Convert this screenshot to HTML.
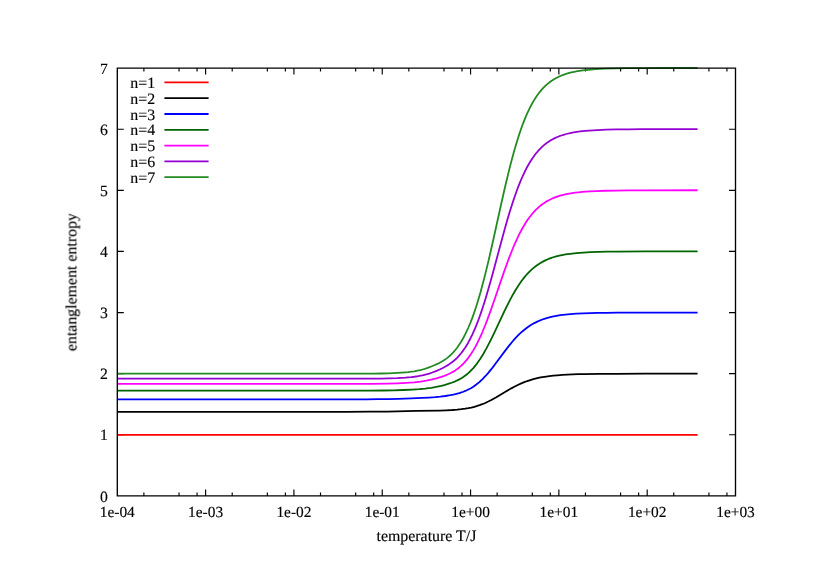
<!DOCTYPE html>
<html><head><meta charset="utf-8"><style>html,body{margin:0;padding:0;background:#fff}svg{display:block}text{font-family:"Liberation Serif",serif;font-size:15.9px;fill:#000;stroke:#000;stroke-width:0.15px;text-rendering:geometricPrecision}</style></head><body>
<svg width="830" height="587" viewBox="0 0 830 587">
<rect width="830" height="587" fill="#fff"/>
<path d="M117.30 434.79 h6.5 M735.50 434.79 h-6.5 M117.30 373.67 h6.5 M735.50 373.67 h-6.5 M117.30 312.56 h6.5 M735.50 312.56 h-6.5 M117.30 251.44 h6.5 M735.50 251.44 h-6.5 M117.30 190.33 h6.5 M735.50 190.33 h-6.5 M117.30 129.21 h6.5 M735.50 129.21 h-6.5 M143.89 495.90 v-3.3 M143.89 68.10 v3.3 M179.03 495.90 v-3.3 M179.03 68.10 v3.3 M197.06 495.90 v-3.3 M197.06 68.10 v3.3 M205.61 495.90 v-6.5 M205.61 68.10 v6.5 M232.20 495.90 v-3.3 M232.20 68.10 v3.3 M267.34 495.90 v-3.3 M267.34 68.10 v3.3 M285.37 495.90 v-3.3 M285.37 68.10 v3.3 M293.93 495.90 v-6.5 M293.93 68.10 v6.5 M320.51 495.90 v-3.3 M320.51 68.10 v3.3 M355.66 495.90 v-3.3 M355.66 68.10 v3.3 M373.68 495.90 v-3.3 M373.68 68.10 v3.3 M382.24 495.90 v-6.5 M382.24 68.10 v6.5 M408.83 495.90 v-3.3 M408.83 68.10 v3.3 M443.97 495.90 v-3.3 M443.97 68.10 v3.3 M462.00 495.90 v-3.3 M462.00 68.10 v3.3 M470.56 495.90 v-6.5 M470.56 68.10 v6.5 M497.14 495.90 v-3.3 M497.14 68.10 v3.3 M532.29 495.90 v-3.3 M532.29 68.10 v3.3 M550.31 495.90 v-3.3 M550.31 68.10 v3.3 M558.87 495.90 v-6.5 M558.87 68.10 v6.5 M585.46 495.90 v-3.3 M585.46 68.10 v3.3 M620.60 495.90 v-3.3 M620.60 68.10 v3.3 M638.63 495.90 v-3.3 M638.63 68.10 v3.3 M647.19 495.90 v-6.5 M647.19 68.10 v6.5 M673.77 495.90 v-3.3 M673.77 68.10 v3.3 M708.91 495.90 v-3.3 M708.91 68.10 v3.3 M726.94 495.90 v-3.3 M726.94 68.10 v3.3" fill="none" stroke="#000" stroke-width="1.15"/>
<path d="M117.30 434.85 L697.60 434.85" fill="none" stroke="#ff0000" stroke-width="1.78" stroke-linejoin="round"/>
<path d="M117.30 411.80 L346.30 411.80 L370.30 411.73 L387.30 411.55 L416.30 410.90 L439.30 410.57 L446.30 410.34 L452.30 410.01 L457.30 409.62 L461.30 409.20 L465.30 408.67 L468.30 408.16 L471.30 407.55 L474.30 406.82 L477.30 405.96 L480.30 404.95 L482.30 404.20 L485.30 402.95 L488.30 401.54 L491.30 400.01 L496.30 397.22 L506.30 391.23 L511.30 388.35 L514.30 386.72 L516.30 385.70 L518.30 384.72 L521.30 383.36 L524.30 382.13 L527.30 381.03 L530.30 380.04 L533.30 379.17 L536.30 378.41 L539.30 377.74 L542.30 377.17 L546.30 376.52 L549.30 376.11 L553.30 375.65 L557.30 375.27 L562.30 374.91 L567.30 374.62 L572.30 374.41 L578.30 374.21 L585.30 374.05 L599.30 373.87 L616.30 373.77 L644.30 373.72 L697.60 373.70" fill="none" stroke="#000000" stroke-width="1.78" stroke-linejoin="round"/>
<path d="M117.30 399.32 L346.30 399.32 L366.30 399.27 L378.30 399.19 L388.30 399.05 L398.30 398.82 L411.30 398.41 L422.30 397.96 L429.30 397.58 L435.30 397.14 L440.30 396.64 L445.30 396.00 L450.30 395.17 L453.30 394.58 L455.30 394.13 L459.30 393.07 L461.30 392.44 L463.30 391.74 L465.30 390.94 L467.30 390.05 L470.30 388.50 L471.30 387.93 L473.30 386.68 L476.30 384.55 L479.30 382.10 L480.30 381.22 L482.30 379.33 L485.30 376.24 L488.30 372.84 L491.30 369.18 L494.30 365.33 L504.30 351.85 L509.30 345.37 L512.30 341.74 L514.30 339.44 L517.30 336.21 L519.30 334.21 L522.30 331.45 L525.30 328.97 L528.30 326.75 L531.30 324.80 L534.30 323.09 L537.30 321.60 L540.30 320.30 L542.30 319.53 L544.30 318.84 L548.30 317.65 L552.30 316.67 L556.30 315.88 L560.30 315.24 L565.30 314.61 L570.30 314.13 L576.30 313.69 L583.30 313.34 L590.30 313.09 L597.30 312.92 L606.30 312.78 L617.30 312.68 L647.30 312.58 L697.60 312.55" fill="none" stroke="#0000ff" stroke-width="1.78" stroke-linejoin="round"/>
<path d="M117.30 390.70 L346.30 390.70 L369.30 390.64 L383.30 390.51 L393.30 390.31 L403.30 389.99 L412.30 389.56 L419.30 389.10 L425.30 388.54 L428.30 388.18 L431.30 387.77 L436.30 386.91 L441.30 385.83 L444.30 385.06 L447.30 384.20 L450.30 383.22 L452.30 382.51 L455.30 381.30 L457.30 380.38 L459.30 379.37 L461.30 378.23 L463.30 376.96 L465.30 375.54 L467.30 373.96 L468.30 373.10 L470.30 371.24 L472.30 369.18 L473.30 368.07 L475.30 365.69 L477.30 363.09 L480.30 358.77 L483.30 353.94 L486.30 348.65 L489.30 342.95 L492.30 336.90 L495.30 330.62 L504.30 311.43 L508.30 303.31 L510.30 299.44 L513.30 293.94 L515.30 290.50 L518.30 285.69 L521.30 281.33 L523.30 278.66 L524.30 277.40 L526.30 275.02 L527.30 273.90 L530.30 270.81 L531.30 269.87 L533.30 268.10 L536.30 265.73 L539.30 263.68 L541.30 262.47 L543.30 261.37 L545.30 260.37 L547.30 259.48 L549.30 258.66 L551.30 257.93 L553.30 257.27 L555.30 256.68 L557.30 256.15 L560.30 255.44 L562.30 255.03 L565.30 254.49 L570.30 253.76 L576.30 253.11 L583.30 252.58 L590.30 252.21 L598.30 251.93 L607.30 251.73 L617.30 251.60 L645.30 251.44 L697.60 251.41" fill="none" stroke="#006400" stroke-width="1.78" stroke-linejoin="round"/>
<path d="M117.30 383.91 L346.30 383.91 L372.30 383.83 L387.30 383.63 L397.30 383.32 L406.30 382.89 L410.30 382.62 L414.30 382.30 L420.30 381.65 L423.30 381.23 L426.30 380.73 L431.30 379.70 L436.30 378.42 L441.30 376.89 L444.30 375.83 L446.30 375.05 L449.30 373.74 L451.30 372.74 L453.30 371.63 L455.30 370.39 L457.30 369.00 L459.30 367.44 L461.30 365.69 L463.30 363.75 L464.30 362.69 L466.30 360.40 L468.30 357.87 L470.30 355.07 L471.30 353.57 L473.30 350.35 L475.30 346.86 L476.30 345.00 L477.30 343.06 L479.30 338.96 L480.30 336.81 L482.30 332.28 L485.30 324.99 L488.30 317.14 L491.30 308.85 L494.30 300.25 L503.30 273.91 L507.30 262.70 L509.30 257.35 L512.30 249.75 L514.30 244.96 L517.30 238.29 L518.30 236.19 L520.30 232.21 L522.30 228.49 L523.30 226.73 L525.30 223.42 L526.30 221.85 L527.30 220.34 L529.30 217.53 L531.30 214.93 L532.30 213.72 L534.30 211.46 L535.30 210.41 L536.30 209.40 L538.30 207.53 L540.30 205.82 L542.30 204.28 L544.30 202.88 L546.30 201.61 L548.30 200.47 L550.30 199.44 L552.30 198.51 L554.30 197.68 L557.30 196.58 L559.30 195.93 L561.30 195.36 L564.30 194.60 L566.30 194.16 L569.30 193.58 L572.30 193.08 L575.30 192.66 L578.30 192.31 L582.30 191.91 L589.30 191.39 L596.30 191.03 L605.30 190.74 L616.30 190.52 L628.30 190.39 L643.30 190.32 L697.60 190.26" fill="none" stroke="#ff00ff" stroke-width="1.78" stroke-linejoin="round"/>
<path d="M117.30 378.71 L346.30 378.71 L373.30 378.62 L381.30 378.53 L388.30 378.39 L397.30 378.08 L405.30 377.62 L411.30 377.09 L414.30 376.75 L417.30 376.32 L419.30 375.99 L422.30 375.40 L424.30 374.94 L427.30 374.15 L429.30 373.54 L432.30 372.52 L435.30 371.38 L437.30 370.56 L440.30 369.21 L443.30 367.74 L446.30 366.09 L448.30 364.87 L451.30 362.81 L453.30 361.24 L455.30 359.50 L457.30 357.56 L459.30 355.41 L461.30 353.01 L463.30 350.37 L465.30 347.42 L467.30 344.20 L468.30 342.45 L470.30 338.73 L472.30 334.67 L473.30 332.49 L475.30 327.89 L476.30 325.45 L478.30 320.28 L480.30 314.78 L481.30 311.88 L483.30 305.82 L485.30 299.47 L488.30 289.37 L491.30 278.74 L494.30 267.75 L502.30 237.92 L505.30 227.07 L507.30 220.10 L509.30 213.34 L512.30 203.75 L514.30 197.72 L517.30 189.32 L518.30 186.68 L520.30 181.68 L522.30 177.00 L523.30 174.80 L525.30 170.63 L526.30 168.67 L527.30 166.78 L529.30 163.25 L531.30 160.00 L532.30 158.48 L534.30 155.65 L535.30 154.32 L536.30 153.06 L538.30 150.71 L540.30 148.57 L542.30 146.64 L544.30 144.89 L546.30 143.31 L548.30 141.88 L550.30 140.59 L552.30 139.43 L554.30 138.39 L557.30 137.01 L559.30 136.21 L561.30 135.49 L564.30 134.54 L566.30 133.99 L569.30 133.26 L572.30 132.64 L575.30 132.12 L578.30 131.67 L582.30 131.17 L585.30 130.87 L589.30 130.53 L597.30 130.03 L606.30 129.68 L616.30 129.44 L628.30 129.28 L642.30 129.19 L697.60 129.11" fill="none" stroke="#9400d3" stroke-width="1.78" stroke-linejoin="round"/>
<path d="M117.30 373.70 L346.30 373.70 L373.30 373.60 L381.30 373.49 L388.30 373.32 L397.30 372.92 L401.30 372.67 L405.30 372.35 L408.30 372.06 L411.30 371.70 L414.30 371.26 L417.30 370.71 L420.30 370.05 L423.30 369.26 L426.30 368.33 L428.30 367.64 L431.30 366.52 L434.30 365.28 L437.30 363.92 L439.30 362.93 L442.30 361.27 L444.30 360.02 L446.30 358.63 L447.30 357.87 L449.30 356.23 L451.30 354.38 L453.30 352.32 L455.30 350.01 L457.30 347.44 L459.30 344.60 L461.30 341.45 L463.30 337.98 L465.30 334.16 L467.30 329.99 L468.30 327.75 L470.30 322.99 L472.30 317.83 L473.30 315.08 L475.30 309.29 L476.30 306.23 L478.30 299.78 L480.30 292.93 L481.30 289.34 L484.30 278.01 L487.30 265.85 L490.30 253.06 L493.30 239.77 L501.30 203.51 L504.30 190.25 L506.30 181.69 L509.30 169.34 L511.30 161.54 L514.30 150.50 L516.30 143.65 L518.30 137.19 L519.30 134.12 L521.30 128.30 L522.30 125.53 L523.30 122.87 L525.30 117.86 L527.30 113.22 L528.30 111.06 L530.30 106.98 L531.30 105.06 L532.30 103.24 L534.30 99.84 L536.30 96.72 L537.30 95.28 L539.30 92.59 L541.30 90.15 L543.30 87.94 L545.30 85.94 L547.30 84.13 L549.30 82.50 L551.30 81.03 L553.30 79.71 L555.30 78.52 L558.30 76.95 L560.30 76.04 L563.30 74.84 L565.30 74.14 L568.30 73.22 L571.30 72.43 L574.30 71.77 L577.30 71.20 L581.30 70.57 L584.30 70.18 L588.30 69.75 L595.30 69.19 L604.30 68.72 L615.30 68.38 L627.30 68.18 L643.30 68.05 L664.30 67.98 L697.60 67.96" fill="none" stroke="#228b22" stroke-width="1.78" stroke-linejoin="round"/>
<path d="M117.30 68.10 H735.50 V495.90 H117.30 Z" fill="none" stroke="#000" stroke-width="1.35"/>
<g style="will-change:transform;opacity:0.999">
<text x="107.8" y="501.50" text-anchor="end" style="font-size:15.7px">0</text>
<text x="107.8" y="440.39" text-anchor="end" style="font-size:15.7px">1</text>
<text x="107.8" y="379.27" text-anchor="end" style="font-size:15.7px">2</text>
<text x="107.8" y="318.16" text-anchor="end" style="font-size:15.7px">3</text>
<text x="107.8" y="257.04" text-anchor="end" style="font-size:15.7px">4</text>
<text x="107.8" y="195.93" text-anchor="end" style="font-size:15.7px">5</text>
<text x="107.8" y="134.81" text-anchor="end" style="font-size:15.7px">6</text>
<text x="107.8" y="73.70" text-anchor="end" style="font-size:15.7px">7</text>
<text x="117.30" y="517.2" text-anchor="middle" style="font-size:15.4px">1e-04</text>
<text x="205.61" y="517.2" text-anchor="middle" style="font-size:15.4px">1e-03</text>
<text x="293.93" y="517.2" text-anchor="middle" style="font-size:15.4px">1e-02</text>
<text x="382.24" y="517.2" text-anchor="middle" style="font-size:15.4px">1e-01</text>
<text x="470.56" y="517.2" text-anchor="middle" style="font-size:15.4px">1e+00</text>
<text x="558.87" y="517.2" text-anchor="middle" style="font-size:15.4px">1e+01</text>
<text x="647.19" y="517.2" text-anchor="middle" style="font-size:15.4px">1e+02</text>
<text x="735.50" y="517.2" text-anchor="middle" style="font-size:15.4px">1e+03</text>
<text x="426.45" y="540.9" text-anchor="middle">temperature T/J</text>
<text transform="translate(76.4 282.2) rotate(-90)" text-anchor="middle">entanglement entropy</text>
<text x="155.1" y="87.95" text-anchor="end">n=1</text>
<text x="155.1" y="103.75" text-anchor="end">n=2</text>
<text x="155.1" y="119.55" text-anchor="end">n=3</text>
<text x="155.1" y="135.35" text-anchor="end">n=4</text>
<text x="155.1" y="151.15" text-anchor="end">n=5</text>
<text x="155.1" y="166.95" text-anchor="end">n=6</text>
<text x="155.1" y="182.75" text-anchor="end">n=7</text>
</g>
<path d="M164.4 82.40 H208.6" stroke="#ff0000" stroke-width="1.78" fill="none"/>
<path d="M164.4 98.20 H208.6" stroke="#000000" stroke-width="1.78" fill="none"/>
<path d="M164.4 114.00 H208.6" stroke="#0000ff" stroke-width="1.78" fill="none"/>
<path d="M164.4 129.80 H208.6" stroke="#006400" stroke-width="1.78" fill="none"/>
<path d="M164.4 145.60 H208.6" stroke="#ff00ff" stroke-width="1.78" fill="none"/>
<path d="M164.4 161.40 H208.6" stroke="#9400d3" stroke-width="1.78" fill="none"/>
<path d="M164.4 177.20 H208.6" stroke="#228b22" stroke-width="1.78" fill="none"/>
</svg></body></html>
